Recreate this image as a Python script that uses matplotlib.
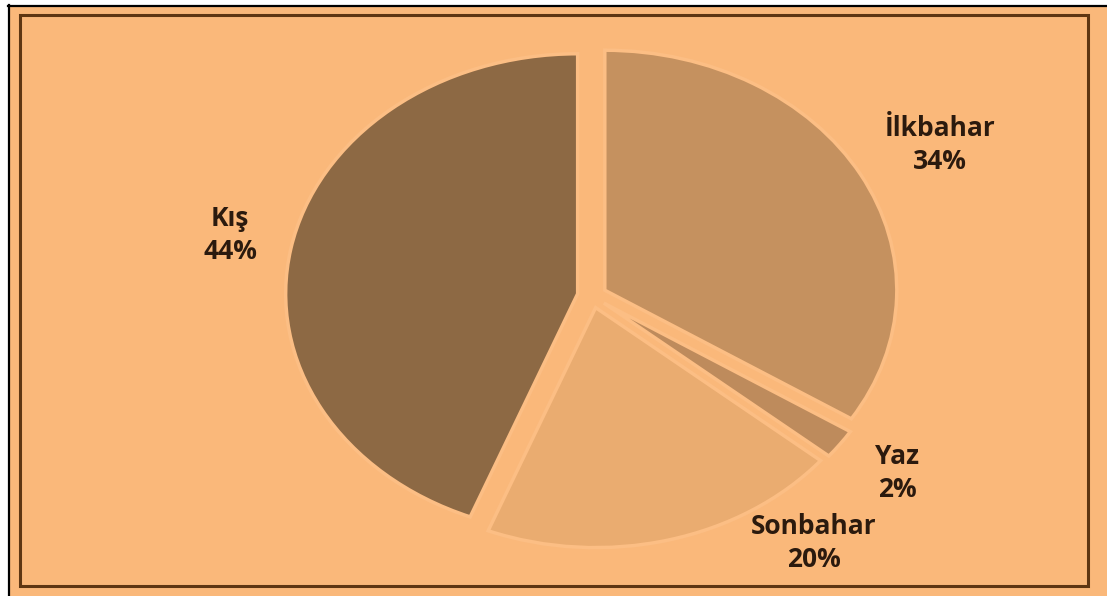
import matplotlib.pyplot as plt
from matplotlib.patches import Rectangle

# mevsimlere göre dağılım (%)
mevsimler = ['İlkbahar', 'Yaz', 'Sonbahar', 'Kış']
oranlar = [34, 2, 20, 44]
renkler = ['#C5915F', '#BE8B5C', '#EAAC70', '#8D6944']
# etiket konumları (piksel)
etiket_x = [940, 897, 814, 230]
etiket_y = [145, 473, 543, 235]

W, H = 1107, 596
arka = '#FAB87A'

fig = plt.figure(figsize=(W / 100, H / 100), dpi=100)
fig.patch.set_facecolor('white')

# çerçeve için piksel koordinatlı eksen
ax = fig.add_axes([0, 0, 1, 1], zorder=1)
ax.set_xlim(0, W)
ax.set_ylim(H, 0)
ax.axis('off')
ax.add_patch(Rectangle((8, 5), W - 8, H - 5, facecolor=arka, edgecolor='none'))
ax.plot([8, W], [5.5, 5.5], color='black', lw=1.6)
ax.plot([8.5, 8.5], [5, H], color='black', lw=1.6)
ax.add_patch(Rectangle((20, 15), 1068, 571, facecolor='none', edgecolor='#5E3612', lw=2.2))

# pasta grafiği (yatayda biraz basık elips)
cx, cy, rx, ry = 592, 296, 292, 240
pax = fig.add_axes([0, 0, 1, 1], zorder=2)
pax.axis('off')
pax.patch.set_alpha(0)
wedges, _ = pax.pie(oranlar, colors=renkler, startangle=90, counterclock=False,
                    explode=[0.05] * 4,
                    wedgeprops=dict(edgecolor='#FCBE84', linewidth=2.5))
pax.set_aspect('auto')
pax.set_xlim(-cx / rx, (W - cx) / rx)
pax.set_ylim(-(H - cy) / ry, cy / ry)

# etiketler
yazi = fig.add_axes([0, 0, 1, 1], zorder=3)
yazi.set_xlim(0, W)
yazi.set_ylim(H, 0)
yazi.axis('off')
yazi.patch.set_alpha(0)
for ad, oran, x, y in zip(mevsimler, oranlar, etiket_x, etiket_y):
    yazi.text(x, y, f'{ad}\n{oran}%', ha='center', va='center', fontsize=19,
              fontweight='bold', family='Open Sans', color='#2B1A0E',
              linespacing=1.3)

fig.savefig('out.png', dpi=100)
